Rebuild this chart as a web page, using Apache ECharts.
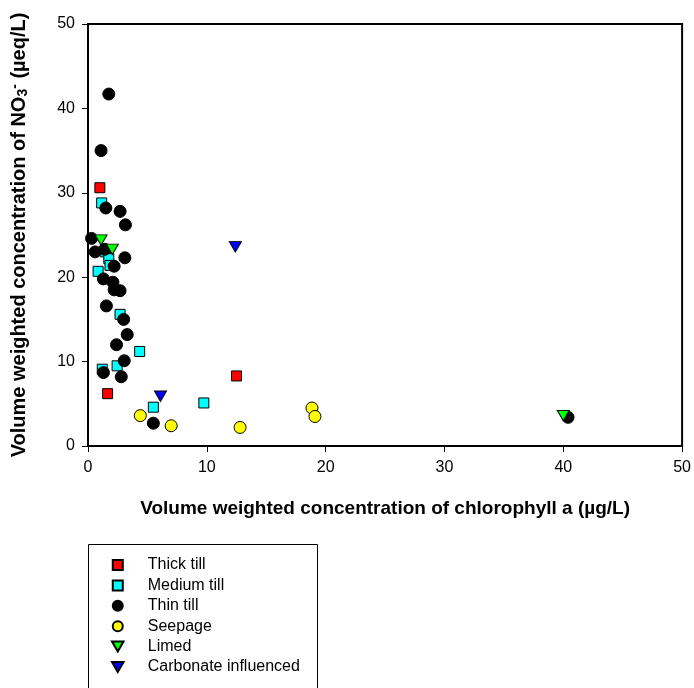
<!DOCTYPE html>
<html>
<head>
<meta charset="utf-8">
<script src="https://cdn.jsdelivr.net/npm/echarts@6/dist/echarts.min.js"></script>
<style>
  html, body { margin: 0; padding: 0; background: #fff; }
  #chart { width: 694px; height: 688px; }
</style>
</head>
<body>
<div id="chart"></div>
<script>
// Axis ticks
const xTicks = [0, 10, 20, 30, 40, 50];
const yTicks = [0, 10, 20, 30, 40, 50];

// [chlorophyll a (µg/L), NO3- (µeq/L)] per lake group
const thickTill = [[1.0, 30.6], [1.65, 6.2], [12.5, 8.3]];
const mediumTill = [
  [1.15, 28.8], [1.45, 23.0], [1.75, 22.2], [1.85, 21.4], [0.85, 20.7],
  [2.7, 15.6], [4.35, 11.2], [1.2, 9.1], [2.45, 9.5], [5.5, 4.6], [9.75, 5.1]
];
const thinTill = [
  [1.75, 41.7], [1.1, 35.0], [1.5, 28.2], [2.7, 27.8], [3.15, 26.2],
  [0.3, 24.6], [0.6, 23.0], [1.4, 23.3], [3.1, 22.3], [2.2, 21.3], [1.3, 19.8],
  [2.1, 19.4], [2.2, 18.5], [2.7, 18.4], [1.55, 16.6], [3.0, 15.0],
  [3.3, 13.2], [2.4, 12.0], [3.05, 10.1], [1.3, 8.7], [2.8, 8.2],
  [5.5, 2.7], [40.4, 3.4]
];
const seepage = [[4.4, 3.6], [7.0, 2.4], [12.8, 2.2], [18.85, 4.5], [19.1, 3.5]];
const limed = [[1.1, 24.4], [2.05, 23.3], [40.0, 3.6]];
const carbonate = [[6.1, 5.9], [12.4, 23.6]];

const FONT = '"Liberation Sans", Arial, sans-serif';
const DOWN_TRI = 'path://M0,0 L12,0 L6,10.4 Z';
const SQUARE = 'path://M0,0 L10,0 L10,10 L0,10 Z';

function scatter(name, data, symbol, size, color) {
  return {
    name: name,
    type: 'scatter',
    data: data,
    symbol: symbol,
    symbolSize: size,
    itemStyle: { color: color, borderColor: '#000', borderWidth: 1, opacity: 1 },
    emphasis: { disabled: true }
  };
}

const chart = echarts.init(document.getElementById('chart'), null, { renderer: 'canvas' });

chart.setOption({
  animation: false,
  backgroundColor: '#fff',
  textStyle: { fontFamily: FONT },
  grid: {
    left: 87, right: 11, top: 24, bottom: 242,
    show: true, borderColor: '#000', borderWidth: 2, backgroundColor: 'transparent'
  },
  xAxis: {
    type: 'value',
    min: xTicks[0], max: xTicks[xTicks.length - 1], interval: 10,
    splitLine: { show: false },
    axisLine: { show: true, onZero: false, lineStyle: { color: '#000', width: 2 } },
    axisTick: { show: true, inside: false, length: 6, lineStyle: { color: '#000', width: 1 } },
    axisLabel: { color: '#000', fontSize: 16, fontFamily: FONT, margin: 14 },
    name: 'Volume weighted concentration of chlorophyll a (\u00b5g/L)',
    nameLocation: 'middle',
    nameGap: 53,
    nameTextStyle: { color: '#000', fontSize: 19, fontWeight: 'bold', fontFamily: FONT }
  },
  yAxis: {
    type: 'value',
    min: yTicks[0], max: yTicks[yTicks.length - 1], interval: 10,
    splitLine: { show: false },
    axisLine: { show: true, onZero: false, lineStyle: { color: '#000', width: 2 } },
    axisTick: { show: true, inside: false, length: 6, lineStyle: { color: '#000', width: 1 } },
    axisLabel: { color: '#000', fontSize: 16, fontFamily: FONT, margin: 13 },
    name: '{b|Volume weighted concentration of NO}{sub|3}{sup|-}{b| (\u00b5eq/L)}',
    nameLocation: 'middle',
    nameGap: 58,
    nameTextStyle: {
      color: '#000', fontSize: 20, fontWeight: 'bold', fontFamily: FONT,
      rich: {
        b: { fontSize: 20, fontWeight: 'bold', fontFamily: FONT, color: '#000', lineHeight: 22 },
        sub: { fontSize: 14, fontWeight: 'bold', fontFamily: FONT, color: '#000', lineHeight: 6, verticalAlign: 'bottom' },
        sup: { fontSize: 14, fontWeight: 'bold', fontFamily: FONT, color: '#000', lineHeight: 6, verticalAlign: 'top' }
      }
    }
  },
  legend: {
    orient: 'vertical',
    left: 106,
    top: 551,
    itemWidth: 50,
    itemHeight: 10,
    itemGap: 2.4,
    symbolKeepAspect: true,
    selectedMode: false,
    textStyle: { color: '#000', fontSize: 16, fontFamily: FONT, lineHeight: 18 },
    data: [
      { name: 'Thick till', icon: SQUARE },
      { name: 'Medium till', icon: SQUARE },
      { name: 'Thin till', icon: 'circle' },
      { name: 'Seepage', icon: 'circle' },
      { name: 'Limed', icon: DOWN_TRI },
      { name: 'Carbonate influenced', icon: DOWN_TRI }
    ]
  },
  graphic: [{
    type: 'rect',
    left: 86, top: 542,
    shape: { width: 229, height: 170 },
    style: { fill: 'none', stroke: '#000', lineWidth: 1 },
    silent: true, z: -1
  }],
  series: [
    scatter('Thick till', thickTill, SQUARE, 10, '#ff0000'),
    scatter('Medium till', mediumTill, SQUARE, 10, '#00ffff'),
    scatter('Thin till', thinTill, 'circle', 12, '#000000'),
    scatter('Seepage', seepage, 'circle', 12, '#ffff00'),
    scatter('Limed', limed, DOWN_TRI, [12, 10.4], '#00ff00'),
    scatter('Carbonate influenced', carbonate, DOWN_TRI, [12, 10.4], '#0000ff')
  ]
});
</script>
</body>
</html>
